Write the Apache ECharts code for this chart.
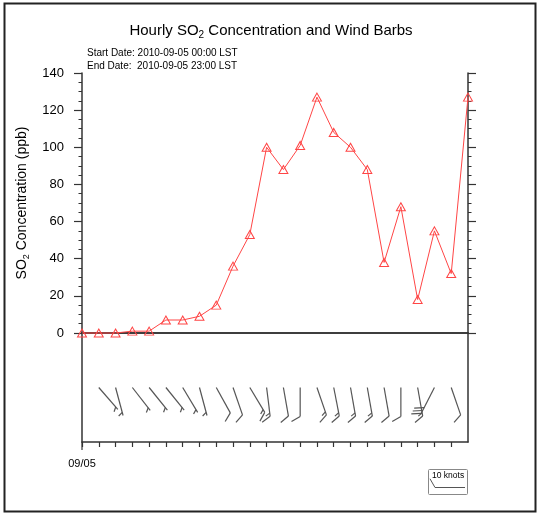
<!DOCTYPE html>
<html>
<head>
<meta charset="utf-8">
<script src="https://cdn.jsdelivr.net/npm/echarts@6/dist/echarts.min.js"></script>
<style>html,body{margin:0;padding:0;background:#fff}#c{width:539px;height:514px}</style>
</head>
<body>
<div id="c"></div>
<script>
// ---- data ----
const hours = ['00','01','02','03','04','05','06','07','08','09','10','11','12','13','14','15','16','17','18','19','20','21','22','23'];
const dateLabel = '09/05';
const so2 = [0, 0, 0, 1, 1, 7, 7, 9, 15, 36, 53, 100, 88, 101, 127, 108, 100, 88, 38, 68, 18, 55, 32, 127];
const windDir = [null, 139, 165, 142, 141, 141, 149, 165, 151, 161, 149, 173, 170, 180, 161, 169, 170, 170, 170, 180, 170, 207, 161, null];
const windSpeed = [null, 5, 5, 5, 5, 5, 5, 5, 10, 10, 15, 15, 10, 10, 15, 15, 15, 15, 10, 10, 15, 30, 10, null];
const yMin = 0, yMax = 140, yStep = 20;
const titleParts = ['Hourly SO', '2', ' Concentration and Wind Barbs'];
const dateLines = ['Start Date: 2010-09-05 00:00 LST', 'End Date:  2010-09-05 23:00 LST'];
const yNameParts = ['SO', '2', ' Concentration (ppb)'];
const keyLabel = '10 knots';

// ---- styling constants ----
const FONT = 'Liberation Sans';
const AX = '#333';
const STAFF = 29, FULL = 10, HALF = 5, SPACING = 3.2, STATION = 0.5;
const BARB_STYLE = { stroke: '#555', lineWidth: 1.2, fill: null };

const chart = echarts.init(document.getElementById('c'), null, { renderer: 'canvas' });

function renderBarb(params, api) {
  const idx = api.value(0), dir = api.value(1), spd = api.value(2);
  const p = api.coord([idx, STATION]);
  const rad = dir * Math.PI / 180;
  const ux = Math.sin(rad), uy = -Math.cos(rad);
  const ex = p[0] + STAFF * ux, ey = p[1] + STAFF * uy;
  const c = 0.5, s = Math.sqrt(3) / 2;
  const fx = ux * c - uy * s, fy = ux * s + uy * c;
  const children = [{ type: 'line', shape: { x1: p[0], y1: p[1], x2: ex, y2: ey }, style: BARB_STYLE }];
  const n10 = Math.floor(spd / 10);
  const n5 = Math.round((spd - n10 * 10) / 5);
  let k = n10 === 0 ? 1 : 0;
  for (let j = 0; j < n10; j++, k++) {
    const bx = ex - k * SPACING * ux, by = ey - k * SPACING * uy;
    children.push({ type: 'line', shape: { x1: bx, y1: by, x2: bx + FULL * fx, y2: by + FULL * fy }, style: BARB_STYLE });
  }
  for (let j = 0; j < n5; j++, k++) {
    const bx = ex - k * SPACING * ux, by = ey - k * SPACING * uy;
    children.push({ type: 'line', shape: { x1: bx, y1: by, x2: bx + HALF * fx, y2: by + HALF * fy }, style: BARB_STYLE });
  }
  return { type: 'group', children };
}

const windData = [];
windDir.forEach((d, i) => { if (d != null) windData.push([i, d, windSpeed[i]]); });

const axLine = { show: true, lineStyle: { color: AX, width: 1.5 } };

const option = {
  animation: false,
  textStyle: { fontFamily: FONT },
  title: [
    {
      text: '{a|' + titleParts[0] + '}{s|' + titleParts[1] + '}{a|' + titleParts[2] + '}',
      left: 266, top: 17, textAlign: 'center',
      textStyle: {
        fontWeight: 'normal',
        rich: {
          a: { fontSize: 15, fontFamily: FONT, fontWeight: 'normal', color: '#000', lineHeight: 18 },
          s: { fontSize: 10, fontFamily: FONT, fontWeight: 'normal', color: '#000', verticalAlign: 'bottom', lineHeight: 10 }
        }
      }
    },
    {
      text: dateLines.join('\n'),
      left: 82, top: 42,
      textStyle: { fontSize: 10, fontWeight: 'normal', color: '#000', lineHeight: 13, fontFamily: FONT }
    }
  ],
  grid: [
    { left: 82, width: 386, top: 73, height: 260 },
    { left: 82, width: 386, top: 333, height: 109 }
  ],
  xAxis: [
    { gridIndex: 0, type: 'category', data: hours, boundaryGap: false, position: 'bottom',
      axisLine: axLine, axisTick: { show: false }, axisLabel: { show: false }, splitLine: { show: false } },
    { gridIndex: 0, type: 'category', data: hours, boundaryGap: false, position: 'top',
      axisLine: axLine, axisTick: { show: false }, axisLabel: { show: false }, splitLine: { show: false } },
    { gridIndex: 1, type: 'category', data: hours, boundaryGap: false, position: 'bottom',
      axisLine: axLine,
      axisTick: { show: true, length: 5, interval: (i) => i < hours.length - 1, lineStyle: { color: AX, width: 1.2 } },
      axisLabel: { show: true, interval: 0, margin: 16, fontSize: 11, color: '#000', fontFamily: FONT,
        formatter: (v, i) => (i === 0 ? dateLabel : '') },
      splitLine: { show: false } }
  ],
  yAxis: [
    { gridIndex: 0, type: 'value', position: 'left', min: yMin, max: yMax, interval: yStep,
      axisLine: axLine,
      axisTick: { show: true, length: 8, lineStyle: { color: AX, width: 1.2 } },
      minorTick: { show: true, splitNumber: 4, length: 3.5, lineStyle: { color: AX, width: 1 } },
      axisLabel: { show: true, margin: 18, fontSize: 13, color: '#000', fontFamily: FONT },
      splitLine: { show: false },
      name: '{a|' + yNameParts[0] + '}{s|' + yNameParts[1] + '}{a|' + yNameParts[2] + '}',
      nameLocation: 'middle', nameRotate: 90, nameGap: 46,
      nameTextStyle: {
        rich: {
          a: { fontSize: 14, fontFamily: FONT, color: '#000', lineHeight: 18 },
          s: { fontSize: 9, fontFamily: FONT, color: '#000', verticalAlign: 'bottom', lineHeight: 10 }
        }
      }
    },
    { gridIndex: 0, type: 'value', position: 'right', min: yMin, max: yMax, interval: yStep,
      axisLine: axLine,
      axisTick: { show: true, length: 8, lineStyle: { color: AX, width: 1.2 } },
      minorTick: { show: true, splitNumber: 4, length: 3.5, lineStyle: { color: AX, width: 1 } },
      axisLabel: { show: false }, splitLine: { show: false } },
    { gridIndex: 1, type: 'value', position: 'left', min: 0, max: 1,
      axisLine: axLine, axisTick: { show: false }, axisLabel: { show: false }, splitLine: { show: false } },
    { gridIndex: 1, type: 'value', position: 'right', min: 0, max: 1,
      axisLine: axLine, axisTick: { show: false }, axisLabel: { show: false }, splitLine: { show: false } }
  ],
  series: [
    {
      type: 'line', xAxisIndex: 0, yAxisIndex: 0, data: so2,
      lineStyle: { color: '#ff4545', width: 1 },
      symbol: 'triangle', symbolSize: [9, 8],
      itemStyle: { color: 'rgba(255,255,255,0)', borderColor: '#ff4545', borderWidth: 1 },
      clip: false, z: 5, emphasis: { disabled: true }
    },
    {
      type: 'custom', xAxisIndex: 2, yAxisIndex: 2, data: windData,
      encode: { x: 0 }, renderItem: renderBarb, silent: true, z: 5
    }
  ]
};
chart.setOption(option);

// extra-long first tick at the start date and the reference key, placed from the axis
const x0 = chart.convertToPixel({ xAxisIndex: 2 }, hours[0]);
const yb = chart.convertToPixel({ yAxisIndex: 2 }, 0);
chart.setOption({
  graphic: [
    { type: 'line', shape: { x1: x0, y1: yb, x2: x0, y2: yb + 8 }, style: { stroke: AX, lineWidth: 1.2 } },
    { type: 'rect', shape: { x: 4.5, y: 3.5, width: 531, height: 508 }, style: { fill: 'none', stroke: '#222', lineWidth: 2 } },
    { type: 'rect', shape: { x: 428.5, y: 469.5, width: 39, height: 25, r: 1 }, style: { fill: '#fff', stroke: '#888', lineWidth: 1 } },
    { type: 'text', x: 432, y: 471, style: { text: keyLabel, fontSize: 8.5, fontFamily: FONT, fill: '#000' } },
    { type: 'polyline', shape: { points: [[465, 487.5], [435, 487.5], [430, 478.8]] }, style: { fill: null, stroke: '#555', lineWidth: 1 } }
  ]
});
</script>
</body>
</html>
